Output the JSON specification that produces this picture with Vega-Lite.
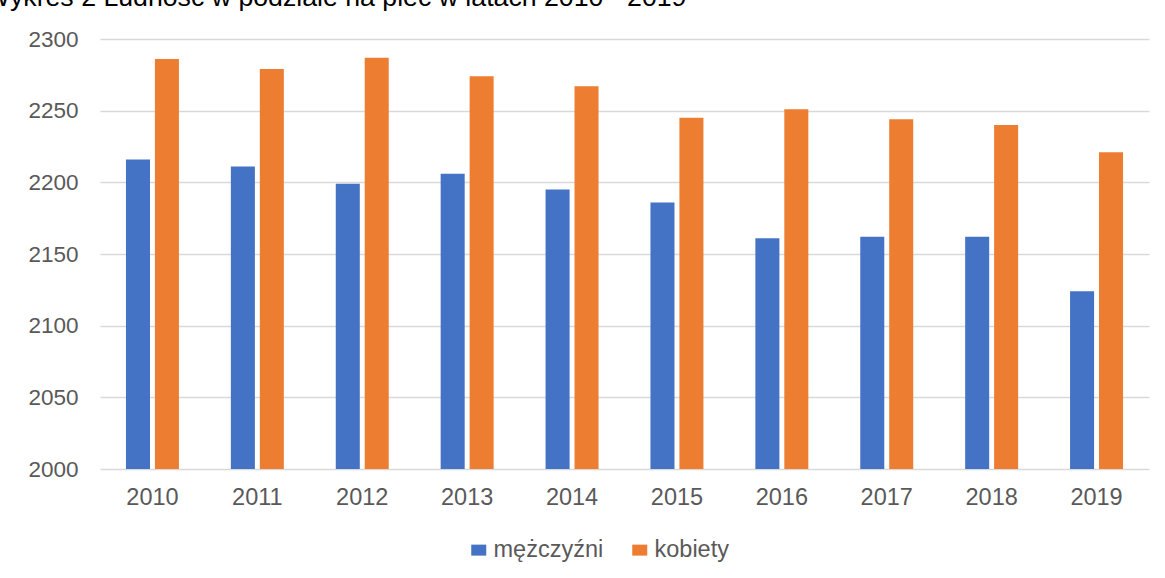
{
  "$schema": "https://vega.github.io/schema/vega-lite/v6.json",
  "width": 1049,
  "height": 430,
  "autosize": {"type": "none"},
  "padding": {"left": 100, "top": 39, "right": 16, "bottom": 109},
  "background": "white",
  "title": {
    "text": "Wykres 2 Ludność w podziale na płeć w latach 2010 - 2019",
    "anchor": "start",
    "frame": "group",
    "dx": -115,
    "dy": 6,
    "offset": 1,
    "baseline": "alphabetic",
    "font": "Liberation Sans",
    "fontSize": 26.7,
    "fontWeight": "normal",
    "color": "#000000"
  },
  "data": {
    "values": [
      {"rok": "2010", "plec": "mężczyźni", "liczba": 2216},
      {"rok": "2010", "plec": "kobiety", "liczba": 2286},
      {"rok": "2011", "plec": "mężczyźni", "liczba": 2211},
      {"rok": "2011", "plec": "kobiety", "liczba": 2279},
      {"rok": "2012", "plec": "mężczyźni", "liczba": 2199},
      {"rok": "2012", "plec": "kobiety", "liczba": 2287},
      {"rok": "2013", "plec": "mężczyźni", "liczba": 2206},
      {"rok": "2013", "plec": "kobiety", "liczba": 2274},
      {"rok": "2014", "plec": "mężczyźni", "liczba": 2195},
      {"rok": "2014", "plec": "kobiety", "liczba": 2267},
      {"rok": "2015", "plec": "mężczyźni", "liczba": 2186},
      {"rok": "2015", "plec": "kobiety", "liczba": 2245},
      {"rok": "2016", "plec": "mężczyźni", "liczba": 2161},
      {"rok": "2016", "plec": "kobiety", "liczba": 2251},
      {"rok": "2017", "plec": "mężczyźni", "liczba": 2162},
      {"rok": "2017", "plec": "kobiety", "liczba": 2244},
      {"rok": "2018", "plec": "mężczyźni", "liczba": 2162},
      {"rok": "2018", "plec": "kobiety", "liczba": 2240},
      {"rok": "2019", "plec": "mężczyźni", "liczba": 2124},
      {"rok": "2019", "plec": "kobiety", "liczba": 2221}
    ]
  },
  "mark": {"type": "bar", "clip": true},
  "encoding": {
    "x": {
      "field": "rok",
      "type": "nominal",
      "scale": {"paddingInner": 0.495, "paddingOuter": 0.2475},
      "axis": {
        "title": null,
        "labelAngle": 0,
        "ticks": false,
        "domain": false,
        "labelPadding": 16,
        "labelFont": "Liberation Sans",
        "labelFontSize": 23.5,
        "labelColor": "#595959"
      }
    },
    "xOffset": {
      "field": "plec",
      "type": "nominal",
      "sort": ["mężczyźni", "kobiety"],
      "scale": {"paddingInner": 0.17, "paddingOuter": 0}
    },
    "y": {
      "field": "liczba",
      "type": "quantitative",
      "scale": {"domain": [2000, 2300], "zero": false, "nice": false},
      "axis": {
        "title": null,
        "values": [2000, 2050, 2100, 2150, 2200, 2250, 2300],
        "format": "d",
        "ticks": false,
        "domain": false,
        "grid": true,
        "gridColor": "#d9d9d9",
        "gridWidth": 1.3,
        "labelPadding": 22,
        "labelFont": "Liberation Sans",
        "labelFontSize": 22.5,
        "labelColor": "#595959"
      }
    },
    "color": {
      "field": "plec",
      "type": "nominal",
      "sort": ["mężczyźni", "kobiety"],
      "scale": {"domain": ["mężczyźni", "kobiety"], "range": ["#4472C4", "#ED7D31"]},
      "legend": {
        "title": null,
        "orient": "none",
        "direction": "horizontal",
        "legendX": 367,
        "legendY": 499,
        "symbolType": "M-1,-0.733H1V0.733H-1Z",
        "symbolSize": 225,
        "symbolStrokeWidth": 0,
        "labelFont": "Liberation Sans",
        "labelFontSize": 23.5,
        "labelColor": "#595959",
        "labelOffset": 3,
        "columnPadding": 24
      }
    }
  },
  "config": {"view": {"stroke": null}}
}
